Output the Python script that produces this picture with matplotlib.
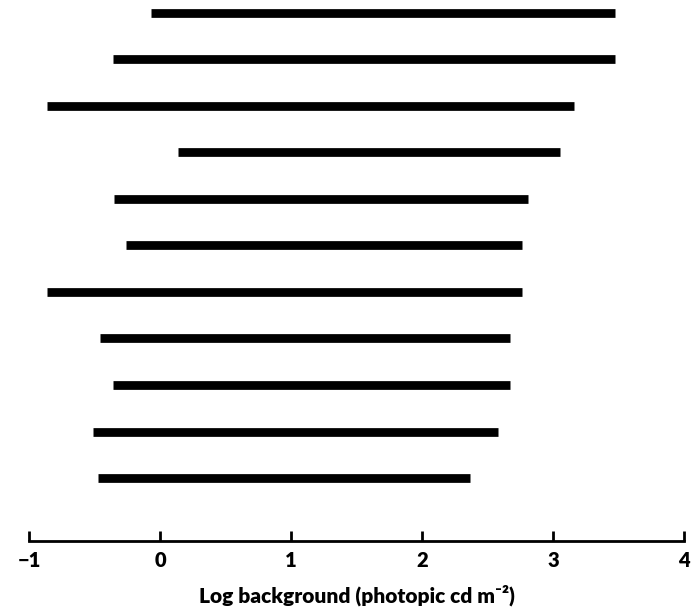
import numpy as np
import matplotlib
matplotlib.use('Agg')
import matplotlib.pyplot as plt

plt.rcParams['font.family'] = ['Lato', 'DejaVu Sans']

# log background range over which each record was obtained (top to bottom)
starts = [-0.07, -0.36, -0.86, 0.14, -0.35, -0.26, -0.86, -0.46, -0.36, -0.51, -0.47]
ends = [3.47, 3.47, 3.16, 3.05, 2.81, 2.76, 2.76, 2.67, 2.67, 2.58, 2.37]
xticks = [-1, 0, 1, 2, 3, 4]
xlabel = 'Log background (photopic cd m\u207b\u00b2)'

rows = np.arange(len(starts))[::-1] + 1

fig = plt.figure(figsize=(6.92, 6.07), dpi=100)
ax = fig.add_axes([29 / 692, 66 / 607, 655 / 692, 541 / 607])

ax.hlines(rows, starts, ends, colors='black', linewidth=6.3, capstyle='butt')

ax.set_xlim(-1, 4)
ax.set_ylim(-0.35, 11.27)

for side in ['top', 'left', 'right']:
    ax.spines[side].set_visible(False)
ax.spines['bottom'].set_linewidth(2)
ax.spines['bottom'].set_bounds(-1, 4)

ax.set_yticks([])
ax.set_xticks(xticks)
ax.set_xticklabels(['\u2212' + str(-t) if t < 0 else str(t) for t in xticks])
ax.tick_params(axis='x', direction='in', length=7, width=2, pad=7,
               labelsize=14.5)
for lab in ax.get_xticklabels():
    lab.set_fontweight('heavy')

ax.set_xlabel(xlabel, fontsize=15, fontweight='heavy', labelpad=11)

fig.savefig('out.png', dpi=100)
